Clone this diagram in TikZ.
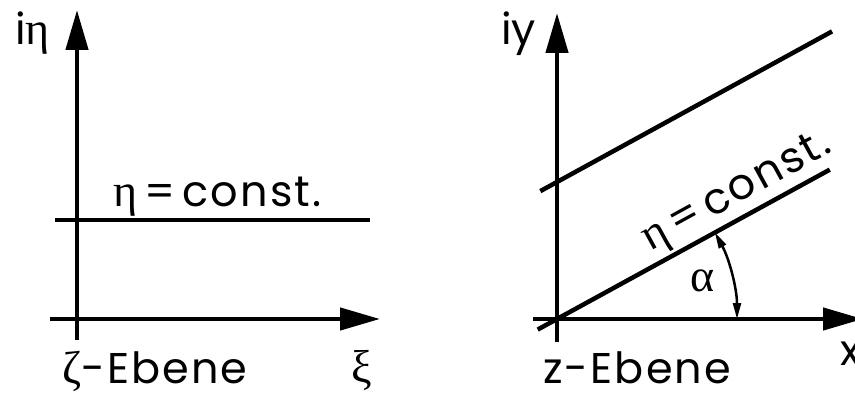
\documentclass[tikz,border=0pt]{standalone}
\usepackage{fontspec}
\setmainfont{Poppins}[LetterSpace=5]
\newfontfamily\plainsans{Poppins}
\newfontfamily\grk{Liberation Serif}
\newcommand{\gl}[1]{{\grk\fontsize{46}{54}\selectfont #1}}
\usetikzlibrary{arrows.meta}
\begin{document}
\begin{tikzpicture}[x=1pt,y=1pt,
  axis/.style={line width=4.5pt,-{Triangle[length=40pt,width=22pt]}},
  curve/.style={line width=4.5pt},
  lbl/.style={inner sep=0pt,font=\fontsize{43}{50}\selectfont},
  gk/.style={inner sep=0pt,font=\fontsize{46}{54}\selectfont\grk},
  angarrow/.style={line width=2.5pt,{Triangle[length=16pt,width=8pt]}-{Triangle[length=16pt,width=8pt]}}]
\useasboundingbox (0,0) rectangle (855,405);
% left panel
\coordinate (lvb) at (77,65);
\coordinate (lvt) at (77,395);
\coordinate (lhl) at (50,86);
\coordinate (lhr) at (380,86);
\coordinate (lel) at (55,185);
\coordinate (ler) at (370,185);
\draw[axis] (lvb) -- (lvt);
\draw[axis] (lhl) -- (lhr);
\draw[curve] (lel) -- (ler);
\node[lbl,anchor=base west] (lieta) at (15,360) {{\plainsans i}\gl{η}};
\node[lbl,anchor=base west] (lconst) at (113,198) {\gl{η}\,=\,const.};
\node[lbl,anchor=base west] (lzeta) at (62,22) {\gl{ζ}-Ebene};
\node[gk] (lxi) at (362,35) {ξ};
% right panel
\coordinate (O) at (557,86);
\coordinate (rvb) at (557,63);
\coordinate (rvt) at (557,392);
\coordinate (rhl) at (533,86);
\coordinate (rhr) at (863,86);
\coordinate (P) at (557,223);
\draw[axis] (rvb) -- (rvt);
\draw[axis] (rhl) -- (rhr);
\draw[curve] (O) ++(208.7:22) -- ++(28.7:333);
\draw[curve] (P) ++(208.7:19) -- ++(28.7:332.6);
\coordinate (A) at (737,86);
\draw[angarrow] (A) arc[start angle=0,end angle=28.7,radius=180];
\node[gk] (ralpha) at (703,124) {α};
\node[lbl,rotate=28.7] (rconst) at (737,212) {\gl{η}\,=\,const.};
\node[lbl,anchor=base west] (riy) at (501,360) {\plainsans iy};
\node[lbl,anchor=base west] (rz) at (543,22) {z-Ebene};
\node[lbl,anchor=base west] (rx) at (840,40) {x};
\end{tikzpicture}
\end{document}
